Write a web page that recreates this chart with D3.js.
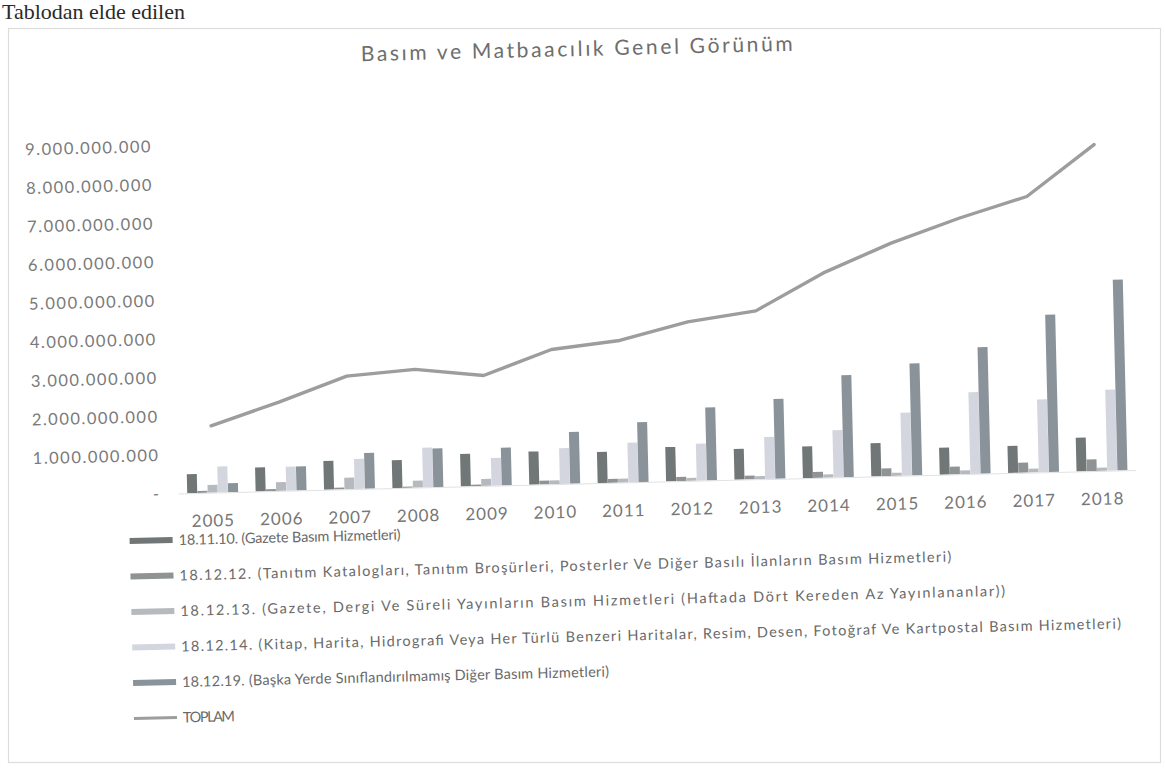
<!DOCTYPE html>
<html><head><meta charset="utf-8">
<script src="https://cdn.jsdelivr.net/npm/d3@7"></script>
<style>
html,body{margin:0;padding:0;background:#fff;}
svg{display:block;}
</style></head>
<body>
<svg id="chart" width="1165" height="775"></svg>
<script>
// ---- data ----
const years = ["2005","2006","2007","2008","2009","2010","2011","2012","2013","2014","2015","2016","2017","2018"];
const seriesNames = [
  "18.11.10. (Gazete Basım Hizmetleri)",
  "18.12.12. (Tanıtım Katalogları, Tanıtım Broşürleri, Posterler Ve Diğer Basılı İlanların Basım Hizmetleri)",
  "18.12.13. (Gazete, Dergi Ve Süreli Yayınların Basım Hizmetleri (Haftada Dört Kereden Az Yayınlananlar))",
  "18.12.14. (Kitap, Harita, Hidrografi Veya Her Türlü Benzeri Haritalar, Resim, Desen, Fotoğraf Ve Kartpostal Basım Hizmetleri)",
  "18.12.19. (Başka Yerde Sınıflandırılmamış Diğer Basım Hizmetleri)"
];
const lineName = "TOPLAM";
const gazete  = [490e6, 620e6, 750e6, 720e6, 840e6, 860e6, 810e6, 890e6, 800e6, 820e6, 860e6, 700e6, 700e6, 870e6];
const tanitim = [50e6, 50e6, 50e6, 30e6, 40e6, 100e6, 100e6, 110e6, 100e6, 150e6, 200e6, 200e6, 260e6, 300e6];
const sureli  = [200e6, 230e6, 300e6, 180e6, 180e6, 100e6, 100e6, 80e6, 80e6, 80e6, 80e6, 100e6, 100e6, 80e6];
const kitap   = [670e6, 620e6, 780e6, 1030e6, 720e6, 930e6, 1030e6, 960e6, 1090e6, 1220e6, 1630e6, 2120e6, 1890e6, 2100e6];
const diger   = [230e6, 620e6, 930e6, 1000e6, 980e6, 1340e6, 1550e6, 1890e6, 2070e6, 2640e6, 2900e6, 3280e6, 4080e6, 4940e6];
const toplam  = [1730e6, 2300e6, 2930e6, 3060e6, 2860e6, 3490e6, 3680e6, 4120e6, 4360e6, 5300e6, 6030e6, 6630e6, 7150e6, 8450e6];
const yTickValues = [0, 1e9, 2e9, 3e9, 4e9, 5e9, 6e9, 7e9, 8e9, 9e9];
const yTickLabels = ["-", "1.000.000.000", "2.000.000.000", "3.000.000.000", "4.000.000.000", "5.000.000.000", "6.000.000.000", "7.000.000.000", "8.000.000.000", "9.000.000.000"];
const chartTitle = "Basım ve Matbaacılık Genel Görünüm";
const pageText = "Tablodan elde edilen";

// ---- styles ----
const barColors = ["#717776", "#8f9394", "#b6b9be", "#d4d6df", "#8a9399"];
const lineColor = "#9d9d9d";
const font = "Lato, 'Open Sans', sans-serif";
const legendWidths = [222, 772, 825, 940, 427];
const toplamWidth = 52;

const svg = d3.select("#chart");

// page text at top of the scan
svg.append("text").attr("x", 2).attr("y", 19)
  .attr("font-family", "'Liberation Serif', serif").attr("font-size", 22)
  .attr("fill", "#2a2a2a").text(pageText);

// frame
svg.append("rect").attr("x", 8.5).attr("y", 28.5).attr("width", 1152).attr("height", 734)
  .attr("fill", "none").attr("stroke", "#dcdcdc").attr("stroke-width", 1.2);

// rotated scan group
const g = svg.append("g").attr("transform", `rotate(-1.4, 582, 387)`);

const plot = {left: 176, right: 1134, top: 136, bottom: 483.5};
const x0 = d3.scaleBand().domain(years).range([plot.left, plot.right]).paddingInner(0.25).paddingOuter(0.125);
const x1 = d3.scaleBand().domain(d3.range(5)).range([0, x0.bandwidth()]).padding(0.02);
const y = d3.scaleLinear().domain([0, 9e9]).range([plot.bottom, plot.top]);

const data = [gazete, tanitim, sureli, kitap, diger];

// title
g.append("text").attr("x", 585).attr("y", 56).attr("text-anchor", "middle")
  .attr("font-family", font).attr("font-size", 21).attr("fill", "#6e6e6e")
  .attr("textLength", 432).attr("lengthAdjust", "spacing").text(chartTitle);

// y axis labels
const yAxis = d3.axisLeft(y).tickValues(yTickValues)
  .tickFormat((d, i) => yTickLabels[i]).tickSize(0).tickPadding(0);
const ya = g.append("g").attr("transform", `translate(${158},0)`).call(yAxis);
ya.select(".domain").remove();
ya.selectAll("text").attr("font-family", font).attr("font-size", 16.5)
  .attr("fill", "#7a7a7a").attr("letter-spacing", 1.5);

// bars
years.forEach((yr, i) => {
  const grp = g.append("g").attr("transform", `translate(${x0(yr)},0)`);
  data.forEach((s, k) => {
    grp.append("rect")
      .attr("x", x1(k)).attr("width", x1.bandwidth())
      .attr("y", y(s[i])).attr("height", y(0) - y(s[i]))
      .attr("fill", barColors[k]);
  });
});

// baseline (faint)
g.append("line").attr("x1", plot.left).attr("x2", plot.right)
  .attr("y1", y(0) + 0.5).attr("y2", y(0) + 0.5)
  .attr("stroke", "#e2e2e2").attr("stroke-width", 1);

// x axis
const xAxis = d3.axisBottom(x0).tickSize(0).tickPadding(0);
const xa = g.append("g").attr("transform", `translate(0,${y(0) + 28})`).call(xAxis);
xa.select(".domain").remove();
xa.selectAll("text").attr("font-family", font).attr("font-size", 17)
  .attr("fill", "#777").attr("letter-spacing", 1.0).attr("dy", "0.35em");

// total line
const line = d3.line().x((d, i) => x0(years[i]) + x0.bandwidth() / 2).y(d => y(d));
g.append("path").datum(toplam).attr("d", line)
  .attr("fill", "none").attr("stroke", lineColor).attr("stroke-width", 3.4)
  .attr("stroke-linejoin", "round").attr("stroke-linecap", "round");

// legend
const legX = 126, legY0 = 530, legStep = 35.5;
const leg = g.append("g");
seriesNames.forEach((name, k) => {
  const row = leg.append("g").attr("transform", `translate(${legX},${legY0 + k * legStep})`);
  row.append("rect").attr("x", 0).attr("y", -3).attr("width", 43).attr("height", 6).attr("fill", barColors[k]);
  row.append("text").attr("x", 49).attr("y", 0).attr("dy", "0.35em")
    .attr("font-family", font).attr("font-size", 14.5).attr("fill", "#6a6a6a")
    .attr("textLength", legendWidths[k]).attr("lengthAdjust", "spacing").text(name);
});
const lrow = leg.append("g").attr("transform", `translate(${legX},${legY0 + 5 * legStep})`);
lrow.append("line").attr("x1", 0).attr("x2", 43).attr("y1", 0).attr("y2", 0)
  .attr("stroke", lineColor).attr("stroke-width", 3);
lrow.append("text").attr("x", 49).attr("y", 0).attr("dy", "0.35em")
  .attr("font-family", font).attr("font-size", 14.5).attr("fill", "#6a6a6a")
  .attr("textLength", toplamWidth).attr("lengthAdjust", "spacing").text(lineName);
</script>
</body></html>
